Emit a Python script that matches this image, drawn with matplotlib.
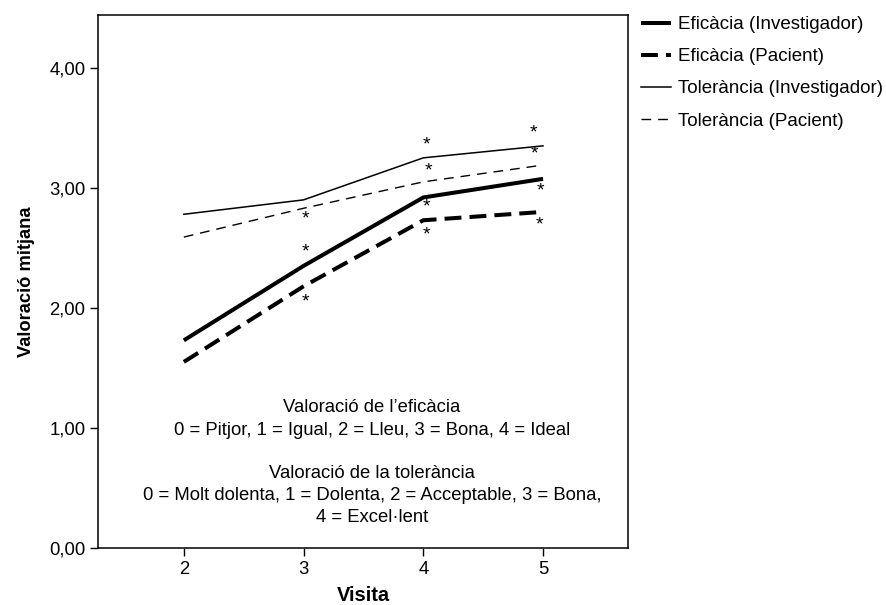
import numpy as np
import matplotlib.pyplot as plt

plt.rcParams['font.family'] = ['Liberation Sans', 'DejaVu Sans']

# visites i valoracions mitjanes
visita = [2, 3, 4, 5]
efic_inv = [1.73, 2.35, 2.92, 3.075]
efic_pac = [1.55, 2.18, 2.73, 2.80]
tol_inv = [2.78, 2.90, 3.25, 3.35]
tol_pac = [2.59, 2.83, 3.05, 3.19]

# posicions dels asteriscs (significacio)
ast_x = [3.02, 3.02, 3.02, 4.03, 4.04, 4.03, 4.03, 4.92, 4.93, 4.98, 4.97]
ast_y = [2.74, 2.47, 2.05, 3.36, 3.14, 2.84, 2.61, 3.46, 3.28, 2.97, 2.69]

series_noms = ['Eficàcia (Investigador)', 'Eficàcia (Pacient)',
               'Tolerància (Investigador)', 'Tolerància (Pacient)']

fig = plt.figure(figsize=(8.87, 6.05), dpi=100)
ax = fig.add_axes([98 / 887, 57 / 605, 530 / 887, 533 / 605])

ax.plot(visita, efic_inv, color='black', lw=2.9, solid_capstyle='butt', label=series_noms[0])
ax.plot(visita, efic_pac, color='black', lw=2.9, dashes=(4.2, 2.0), label=series_noms[1])
ax.plot(visita, tol_inv, color='black', lw=1.1, label=series_noms[2])
ax.plot(visita, tol_pac, color='black', lw=1.0, dashes=(7, 5), label=series_noms[3])

for x, y in zip(ast_x, ast_y):
    ax.text(x, y, '*', ha='center', va='center', fontsize=14)

# text explicatiu
fs = 13.3
ax.text(3.57, 1.17, "Valoració de l’eficàcia", ha='center', va='center', fontsize=fs)
ax.text(3.57, 0.98, "0 = Pitjor, 1 = Igual, 2 = Lleu, 3 = Bona, 4 = Ideal",
        ha='center', va='center', fontsize=fs)
ax.text(3.57, 0.62, "Valoració de la tolerància", ha='center', va='center', fontsize=fs)
ax.text(3.57, 0.435, "0 = Molt dolenta, 1 = Dolenta, 2 = Acceptable, 3 = Bona,",
        ha='center', va='center', fontsize=fs)
ax.text(3.57, 0.25, "4 = Excel·lent", ha='center', va='center', fontsize=fs)

# eixos
ax.set_xlim(1.283, 5.71)
ax.set_ylim(0, 4.44)
ax.set_xticks(visita)
ax.set_yticks([0, 1, 2, 3, 4])
ax.set_yticklabels(['0,00', '1,00', '2,00', '3,00', '4,00'])
ax.tick_params(direction='out', length=6, width=1, labelsize=13.3, colors='black', pad=3)
for s in ax.spines.values():
    s.set_linewidth(1.1)
ax.set_xlabel('Visita', fontsize=14.5, fontweight='bold', labelpad=6)
ax.set_ylabel('Valoració mitjana', fontsize=13.2, fontweight='bold', labelpad=10)

ax.legend(loc='upper left', bbox_to_anchor=(641 / 887, 1 - 16 / 605),
          bbox_transform=fig.transFigure, frameon=False, fontsize=13.5,
          handlelength=1.6, handletextpad=0.35, labelspacing=0.8, borderaxespad=0,
          borderpad=0)

fig.savefig('out.png', dpi=100)
